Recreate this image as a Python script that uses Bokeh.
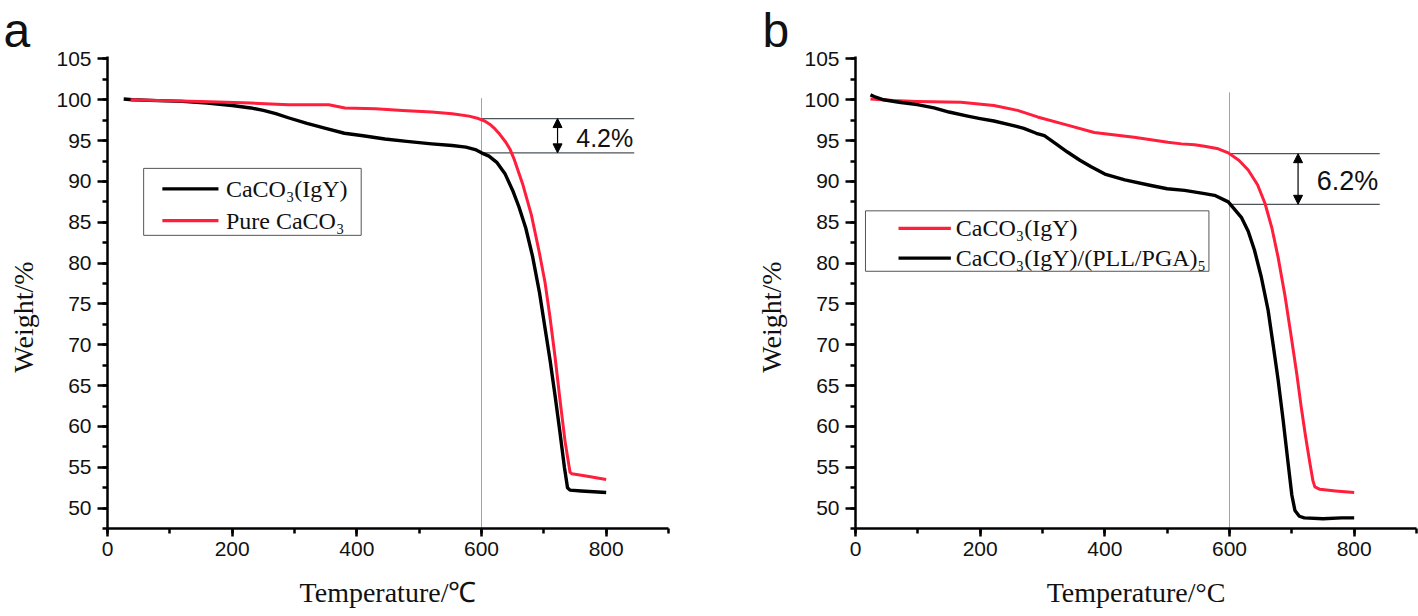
from bokeh.plotting import figure
from bokeh.models import Range1d, SingleIntervalTicker, Arrow, NormalHead
from bokeh.layouts import row
from bokeh.core.properties import value
from bokeh.embed import file_html
from bokeh.resources import INLINE

# ---------------- data ----------------
# Panel a
a_names = ["CaCO\u2083(IgY)", "Pure CaCO\u2083"]
a_igy_x = [26, 40, 80, 120, 160, 200, 230, 250, 270, 290, 320, 350, 380, 410, 445, 480, 520,
           553, 575, 590, 600, 612, 625, 638, 650, 660, 671, 682, 693, 702, 710, 718, 726,
           733, 738, 742, 760, 780, 800]
a_igy_y = [100.1, 100.0, 99.9, 99.8, 99.6, 99.3, 99.0, 98.7, 98.3, 97.8, 97.1, 96.5, 95.9,
           95.6, 95.2, 94.9, 94.6, 94.4, 94.2, 93.9, 93.5, 93.1, 92.3, 90.9, 88.9, 86.9, 84.3,
           80.8, 76.4, 72.0, 68.1, 63.8, 59.2, 55.0, 52.5, 52.2, 52.1, 52.0, 51.9]
a_pure_x = [37, 80, 150, 230, 290, 355, 381, 430, 473, 520, 553, 580, 595, 605, 615, 622, 629,
            639, 646, 652, 666, 680, 693, 702, 710, 718, 726, 734, 742, 745, 770, 800]
a_pure_y = [100.0, 99.9, 99.8, 99.6, 99.4, 99.4, 99.0, 98.9, 98.7, 98.5, 98.3, 98.0, 97.7,
            97.4, 96.9, 96.4, 95.8, 94.8, 93.9, 92.8, 89.7, 85.9, 81.2, 77.6, 73.3, 68.5,
            63.2, 58.2, 54.4, 54.2, 53.9, 53.5]
a_marks = [97.7, 93.5]
a_pct = "4.2%"

# Panel b
b_names = ["CaCO\u2083(IgY)", "CaCO\u2083(IgY)/(PLL/PGA)\u2085"]
b_igy_x = [24, 60, 99, 169, 222, 260, 292, 340, 383, 447, 501, 523, 544, 560, 582, 598, 615,
           630, 645, 657, 668, 678, 689, 699, 708, 715, 722, 729, 734, 737, 745, 770, 800]
b_igy_y = [100.1, 99.9, 99.8, 99.7, 99.3, 98.7, 97.9, 96.9, 96.0, 95.4, 94.8, 94.6, 94.5,
           94.3, 94.0, 93.5, 92.6, 91.4, 89.6, 87.3, 84.3, 80.7, 76.0, 71.0, 66.4, 62.4,
           58.8, 55.5, 53.3, 52.6, 52.3, 52.1, 51.9]
b_pll_x = [24, 30, 45, 70, 99, 126, 150, 180, 200, 222, 250, 270, 290, 303, 320, 340, 360,
           378, 400, 432, 474, 500, 528, 560, 576, 598, 619, 630, 640, 651, 662, 670, 678,
           686, 694, 700, 705, 712, 720, 750, 780, 800]
b_pll_y = [100.6, 100.4, 100.0, 99.7, 99.4, 99.0, 98.5, 98.0, 97.7, 97.4, 96.9, 96.5, 95.9,
           95.6, 94.7, 93.6, 92.6, 91.8, 90.9, 90.2, 89.5, 89.1, 88.9, 88.5, 88.3, 87.5,
           85.6, 83.9, 81.6, 78.3, 74.2, 70.0, 65.7, 60.8, 55.5, 51.6, 49.7, 49.0, 48.8,
           48.7, 48.8, 48.8]
b_marks = [93.4, 87.2]
b_pct = "6.2%"

x_labels = ["Temperature/\u2103", "Temperature/\u00b0C"]
y_label = "Weight/%"
panel_letters = ["a", "b"]

RED = "#ff1e3c"
BLACK = "#000000"
SANS = "Liberation Sans"
SERIF = "Liberation Serif"
YMIN, YMAX = 47.5, 105.3
YLAB_PAD = "\u00a0" * 7   # trailing no-break spaces: the original's y title sits below the middle


def base_fig(width, left, right, xlab, letter, letter_offset):
    p = figure(width=width, height=616, x_range=Range1d(0, 900), y_range=Range1d(YMIN, YMAX),
               output_backend="svg", toolbar_location=None,
               min_border_left=left, min_border_right=right, min_border_top=56,
               min_border_bottom=88)
    p.outline_line_color = None
    p.grid.visible = False
    p.background_fill_color = "white"
    p.border_fill_color = "white"
    p.xaxis.ticker = SingleIntervalTicker(interval=200, num_minor_ticks=2)
    p.yaxis.ticker = SingleIntervalTicker(interval=5, num_minor_ticks=2)
    for ax in (p.xaxis, p.yaxis):
        ax.axis_line_width = 2.5
        ax.major_tick_line_width = 2.5
        ax.minor_tick_line_width = 2.5
        ax.major_tick_in = 0
        ax.minor_tick_in = 0
        ax.major_label_text_font = SANS
        ax.major_label_text_font_size = "21px"
        ax.major_label_text_color = "#111111"
        ax.axis_label_text_font = SERIF
        ax.axis_label_text_font_style = "normal"
        ax.axis_label_text_font_size = "28px"
        ax.axis_label_text_color = "#111111"
    p.xaxis.major_tick_out = 8
    p.xaxis.minor_tick_out = 5
    p.yaxis.major_tick_out = 10
    p.yaxis.minor_tick_out = 5
    p.xaxis.major_label_standoff = 5
    p.yaxis.major_label_standoff = 6
    p.xaxis.axis_label = xlab
    p.yaxis.axis_label = y_label + YLAB_PAD
    p.xaxis.axis_label_standoff = 18
    p.yaxis.axis_label_standoff = 14
    # panel letter
    p.title.text = letter
    p.title.text_font = SANS
    p.title.text_font_size = "48px"
    p.title.text_font_style = "normal"
    p.title.text_color = "#111111"
    p.title.align = "left"
    p.title.offset = letter_offset
    p.title.standoff = 0
    return p


def annotate(p, marks, pct, vline_top, hline_end, arrow_x, pct_x, pct_size):
    p.segment(x0=[600], y0=[YMIN], x1=[600], y1=[vline_top], line_color="#9aa5ad", line_width=1)
    p.segment(x0=[600, 600], y0=marks, x1=[hline_end, hline_end], y1=marks,
              line_color="#4d5458", line_width=1.2)
    p.add_layout(Arrow(x_start=arrow_x, y_start=marks[0], x_end=arrow_x, y_end=marks[1],
                       line_color="black", line_width=1.2,
                       start=NormalHead(size=9, fill_color="black", line_color="black"),
                       end=NormalHead(size=9, fill_color="black", line_color="black")))
    p.text(x=[pct_x], y=[(marks[0] + marks[1]) / 2 - 0.3], text=[pct],
           text_font=value(SANS), text_font_size=value(pct_size),
           text_baseline="middle", text_align="left", text_color="#111111")


def legend_box(p, left, right, top, bottom, gx0, gx1, rows, tx, names, colors):
    p.quad(left=[left], right=[right], top=[top], bottom=[bottom],
           fill_color="white", line_color="#555555", line_width=1)
    for yy, c in zip(rows, colors):
        p.segment(x0=[gx0], y0=[yy], x1=[gx1], y1=[yy], line_color=c, line_width=3.2)
    p.text(x=[tx, tx], y=rows, text=names, text_font=value(SERIF),
           text_font_size=value("24px"), text_baseline="middle", text_align="left",
           text_color="#111111")


# ---------------- panel a ----------------
pa = base_fig(748, 107, 80, x_labels[0], panel_letters[0], -104)
annotate(pa, a_marks, a_pct, 100.2, 845, 722, 752, "25px")
pa.line(a_igy_x, a_igy_y, line_color=BLACK, line_width=3.4, line_join="round")
pa.line(a_pure_x, a_pure_y, line_color=RED, line_width=3.0, line_join="round")
legend_box(pa, 58, 407, 91.6, 83.4, 88, 178, [89.1, 85.2], 190, a_names, [BLACK, RED])

# ---------------- panel b ----------------
pb = base_fig(670, 107, 2, x_labels[1], panel_letters[1], -93)
annotate(pb, b_marks, b_pct, 100.9, 841, 710, 740, "27px")
pb.line(b_igy_x, b_igy_y, line_color=RED, line_width=3.0, line_join="round")
pb.line(b_pll_x, b_pll_y, line_color=BLACK, line_width=3.4, line_join="round")
legend_box(pb, 16, 567, 86.4, 79.0, 69, 153, [84.25, 80.6], 161, b_names, [RED, BLACK])

layout = row(pa, pb)
open("out.html", "w").write(file_html(layout, INLINE))
